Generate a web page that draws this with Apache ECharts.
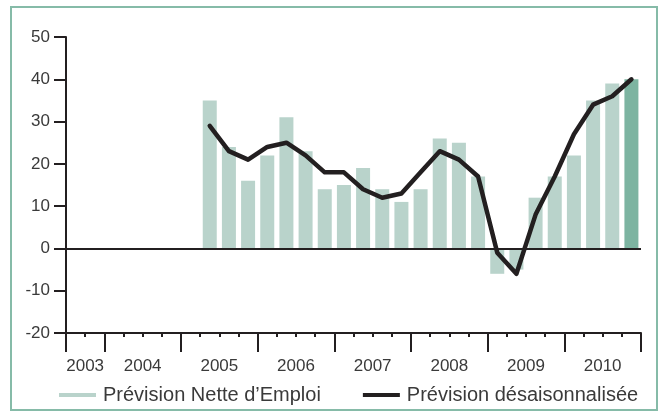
<!DOCTYPE html>
<html>
<head>
<meta charset="utf-8">
<script src="https://cdn.jsdelivr.net/npm/echarts@6/dist/echarts.min.js"></script>
<style>html,body{margin:0;padding:0;background:#fff}#c{width:662px;height:412px}</style>
</head>
<body>
<div id="c"></div>
<script>
// Quarters from 2003 T3 to 2010 T4
const quarters = [
  '2003T3','2003T4',
  '2004T1','2004T2','2004T3','2004T4',
  '2005T1','2005T2','2005T3','2005T4',
  '2006T1','2006T2','2006T3','2006T4',
  '2007T1','2007T2','2007T3','2007T4',
  '2008T1','2008T2','2008T3','2008T4',
  '2009T1','2009T2','2009T3','2009T4',
  '2010T1','2010T2','2010T3','2010T4'
];
const netForecast = [
  null,null,
  null,null,null,null,
  null,35,24,16,
  22,31,23,14,
  15,19,14,11,
  14,26,25,17,
  -6,-5,12,17,
  22,35,39,40
];
const adjustedForecast = [
  null,null,
  null,null,null,null,
  null,29,23,21,
  24,25,22,18,
  18,14,12,13,
  18,23,21,17,
  -1,-6,8,17,
  27,34,36,40
];
const yearLabels = ['2003','2004','2005','2006','2007','2008','2009','2010'];
const yearStarts = [0,2,6,10,14,18,22,26,30]; // quarter-index boundaries of the years
const yTicks = {min:-20, max:50, interval:10};

const FONT = '"Liberation Sans", Arial, sans-serif';
const TXT = '#3a3a3a';
const DARK = '#231f20';
const LIGHT = '#b9d3cb';
const DEEP = '#7db4a1';

const labelCenters = yearLabels.map((y,i)=> (yearStarts[i]+yearStarts[i+1])/2);

const barData = netForecast.map((v,i)=>{
  if (v === null) return null;
  return i === netForecast.length-1 ? {value:v, itemStyle:{color:DEEP}} : v;
});

const chart = echarts.init(document.getElementById('c'), null, {renderer:'canvas'});
chart.setOption({
  animation:false,
  backgroundColor:'#fff',
  textStyle:{fontFamily:FONT},
  graphic:[{
    type:'rect', silent:true, z:-1,
    shape:{x:11, y:7, width:646, height:403},
    style:{fill:'none', stroke:'#86bba8', lineWidth:2}
  }],
  grid:{left:66, right:21, top:37, bottom:79, containLabel:false},
  legend:{
    left:54, top:380, itemGap:42, itemWidth:37, itemHeight:4,
    icon:'rect',
    textStyle:{fontFamily:FONT, fontSize:20, color:TXT, padding:[0,0,0,2]},
    data:[
      {name:'Prévision Nette d\u2019Emploi', itemStyle:{color:LIGHT}},
      {name:'Prévision désaisonnalisée', itemStyle:{color:DARK}}
    ]
  },
  xAxis:[{
    type:'category', data:quarters, boundaryGap:true,
    axisLine:{onZero:false, lineStyle:{color:DARK, width:2}},
    axisTick:{show:true, interval:0, length:4, lineStyle:{color:DARK, width:2}},
    axisLabel:{show:false},
    splitLine:{show:false}
  },{
    type:'value', min:0, max:30, position:'bottom',
    axisLine:{show:false, onZero:false},
    axisTick:{show:true, customValues:yearStarts, length:19, lineStyle:{color:DARK, width:2}},
    axisLabel:{show:true, customValues:labelCenters, margin:25,
      fontFamily:FONT, fontSize:17, color:TXT,
      formatter:(v)=>{const i=labelCenters.indexOf(v); return i>=0?yearLabels[i]:'';}},
    splitLine:{show:false}
  }],
  yAxis:{
    type:'value', min:yTicks.min, max:yTicks.max, interval:yTicks.interval,
    axisLine:{show:true, lineStyle:{color:DARK, width:2}},
    axisTick:{show:true, length:12, lineStyle:{color:DARK, width:2}},
    axisLabel:{fontFamily:FONT, fontSize:17, color:TXT, margin:16},
    splitLine:{show:false}
  },
  series:[{
    name:'Prévision Nette d\u2019Emploi', type:'bar', xAxisIndex:0,
    data:barData, barWidth:14, itemStyle:{color:LIGHT},
    markLine:{silent:true, symbol:'none', label:{show:false},
      lineStyle:{color:DARK, width:2, type:'solid'}, data:[{yAxis:0}]}
  },{
    name:'Prévision désaisonnalisée', type:'line', xAxisIndex:0,
    data:adjustedForecast, showSymbol:false, symbol:'none', z:5,
    lineStyle:{color:DARK, width:4.5, join:'round', cap:'round'},
    itemStyle:{color:DARK}
  }]
});
</script>
</body>
</html>
